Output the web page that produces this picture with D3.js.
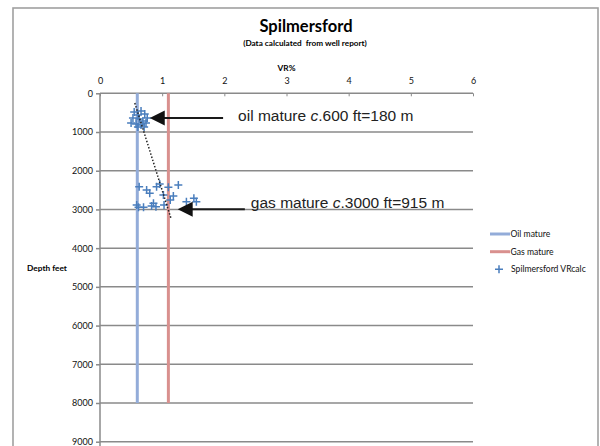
<!DOCTYPE html>
<html><head><meta charset="utf-8">
<script src="https://cdn.jsdelivr.net/npm/d3@7/dist/d3.min.js"></script>
<style>body{margin:0;background:#fff}svg{display:block}</style>
</head><body><svg id="c" width="600" height="446"></svg>
<script>
// ---- data ----
const xTicks = [0,1,2,3,4,5,6];
const yTicks = [0,1000,2000,3000,4000,5000,6000,7000,8000,9000];
const oilMature = [{vr:0.6, depth:0},{vr:0.6, depth:8000}];
const gasMature = [{vr:1.1, depth:0},{vr:1.1, depth:8000}];
const vrcalcVR = [0.55,0.66,0.61,0.72,0.76,0.53,0.63,0.69,0.50,0.58,0.66,0.74,0.61,0.71,
  0.63,0.75,0.80,0.91,0.96,1.10,1.26,1.02,1.18,1.13,1.39,1.51,1.55,0.59,0.62,0.70,0.86,0.90,1.03,0.83];
const vrcalcDepth = [483,457,560,535,638,638,664,715,767,793,819,767,870,870,
  2413,2498,2585,2413,2344,2430,2370,2628,2654,2757,2800,2713,2800,2886,2946,2946,2842,2930,2886,2912];
const trend = [{vr:0.56, depth:250},{vr:1.14, depth:3222}];
const annotations = [
  {vr:0.80, depth:638, tailVR:1.98, label:["oil mature ","c",".600 ft=180 m"], dx:15, dy:3.5},
  {vr:1.25, depth:2997, tailVR:2.33, label:["gas mature ","c",".3000 ft=915 m"], dx:6, dy:-1}
];
const legendItems = ["Oil mature","Gas mature","Spilmersford VRcalc"];

// ---- chart ----
const svg = d3.select("#c");
const x = d3.scaleLinear().domain([0,6]).range([100,473]);
const y = d3.scaleLinear().domain([0,9000]).range([93.3,441.7]);
const grid = "#8a8a8a";
const calibri = "Lato, 'Open Sans', sans-serif";

svg.append("rect").attr("x",13).attr("y",8).attr("width",585).attr("height",470)
  .attr("fill","none").attr("stroke","#a0a0a0").attr("stroke-width",1.6);

// title
svg.append("text").attr("x",306).attr("y",32).attr("text-anchor","middle")
  .style("font-family",calibri).style("font-weight","bold").style("font-size","16.5px").text("Spilmersford");
svg.append("text").attr("x",305).attr("y",46).attr("text-anchor","middle").style("white-space","pre")
  .style("font-family",calibri).style("font-weight","bold").style("font-size","8.2px").text("(Data calculated  from well report)");
svg.append("text").attr("x",x(3)).attr("y",71).attr("text-anchor","middle")
  .style("font-family",calibri).style("font-weight","bold").style("font-size","8.3px").text("VR%");
svg.append("text").attr("x",47).attr("y",271).attr("text-anchor","middle")
  .style("font-family",calibri).style("font-weight","bold").style("font-size","8.3px").text("Depth feet");

// grid
svg.append("g").selectAll("line").data(yTicks).join("line")
  .attr("x1",x(0)).attr("x2",x(6)).attr("y1",d=>y(d)).attr("y2",d=>y(d))
  .attr("stroke",grid).attr("stroke-width",1.5);
svg.append("line").attr("x1",x(0)).attr("x2",x(0)).attr("y1",y(0)).attr("y2",y(9000)+10)
  .attr("stroke",grid).attr("stroke-width",1.5);

// axes
const xAxis = d3.axisTop(x).tickValues(xTicks).tickFormat(d3.format("d")).tickSize(-3).tickPadding(9);
const gx = svg.append("g").attr("transform",`translate(0,${y(0)})`).call(xAxis);
gx.select(".domain").remove();
gx.selectAll("line").attr("stroke",grid).attr("stroke-width",1);
gx.selectAll("text").style("font-family",calibri).style("font-size","9px").attr("fill","#111");

const yAxis = d3.axisLeft(y).tickValues(yTicks).tickFormat(d3.format("d")).tickSize(4).tickPadding(3);
const gy = svg.append("g").attr("transform",`translate(${x(0)},0)`).call(yAxis);
gy.select(".domain").remove();
gy.selectAll("line").attr("stroke",grid).attr("stroke-width",1.5);
gy.selectAll("text").style("font-family",calibri).style("font-size","9px").attr("fill","#111");

// maturity lines
const line = d3.line().x(d=>x(d.vr)).y(d=>y(d.depth));
svg.append("path").datum(oilMature).attr("d",line).attr("stroke","#93acd9").attr("stroke-width",3).attr("fill","none");
svg.append("path").datum(gasMature).attr("d",line).attr("stroke","#d9908e").attr("stroke-width",3).attr("fill","none");

// points
svg.append("g").selectAll("path").data(vrcalcVR.map((v,i)=>({vr:v, depth:vrcalcDepth[i]}))).join("path")
  .attr("transform",d=>`translate(${x(d.vr)},${y(d.depth)})`)
  .attr("d","M-4,0H4M0,-4V4").attr("stroke","#4a7ebd").attr("stroke-width",1.5).attr("fill","none");

// trendline
svg.append("path").datum(trend).attr("d",line).attr("stroke","#222").attr("stroke-width",1.5)
  .attr("stroke-dasharray","1.5,1.8").attr("fill","none");

// annotations
annotations.forEach(a=>{
  const tx = x(a.vr), ty = y(a.depth), tail = x(a.tailVR);
  svg.append("line").attr("x1",tx+14).attr("x2",tail).attr("y1",ty).attr("y2",ty)
    .attr("stroke","#1a1a1a").attr("stroke-width",2);
  svg.append("path").attr("d",`M${tx},${ty}L${tx+15},${ty-7.5}L${tx+15},${ty+7.5}Z`).attr("fill","#111");
  const t = svg.append("text").attr("x",tail+a.dx).attr("y",ty+a.dy)
    .style("font-family","'Liberation Sans', Arial, sans-serif").style("font-size","15.5px").attr("fill","#222");
  t.append("tspan").text(a.label[0]);
  t.append("tspan").style("font-style","italic").text(a.label[1]);
  t.append("tspan").text(a.label[2]);
});

// legend
const lg = svg.append("g").style("font-family",calibri).style("font-size","8.6px");
const ly = [234, 251.7, 269.3];
lg.append("line").attr("x1",490).attr("x2",510).attr("y1",ly[0]).attr("y2",ly[0]).attr("stroke","#93acd9").attr("stroke-width",3);
lg.append("line").attr("x1",490).attr("x2",510).attr("y1",ly[1]).attr("y2",ly[1]).attr("stroke","#d9908e").attr("stroke-width",3);
lg.append("path").attr("transform",`translate(499,${ly[2]})`).attr("d","M-4,0H4M0,-4V4").attr("stroke","#4a7ebd").attr("stroke-width",1.5);
lg.selectAll("text").data(legendItems).join("text")
  .attr("x",(d,i)=>i<2?510.5:511).attr("y",(d,i)=>ly[i]+3).text(d=>d).attr("fill","#111");
</script></body></html>
